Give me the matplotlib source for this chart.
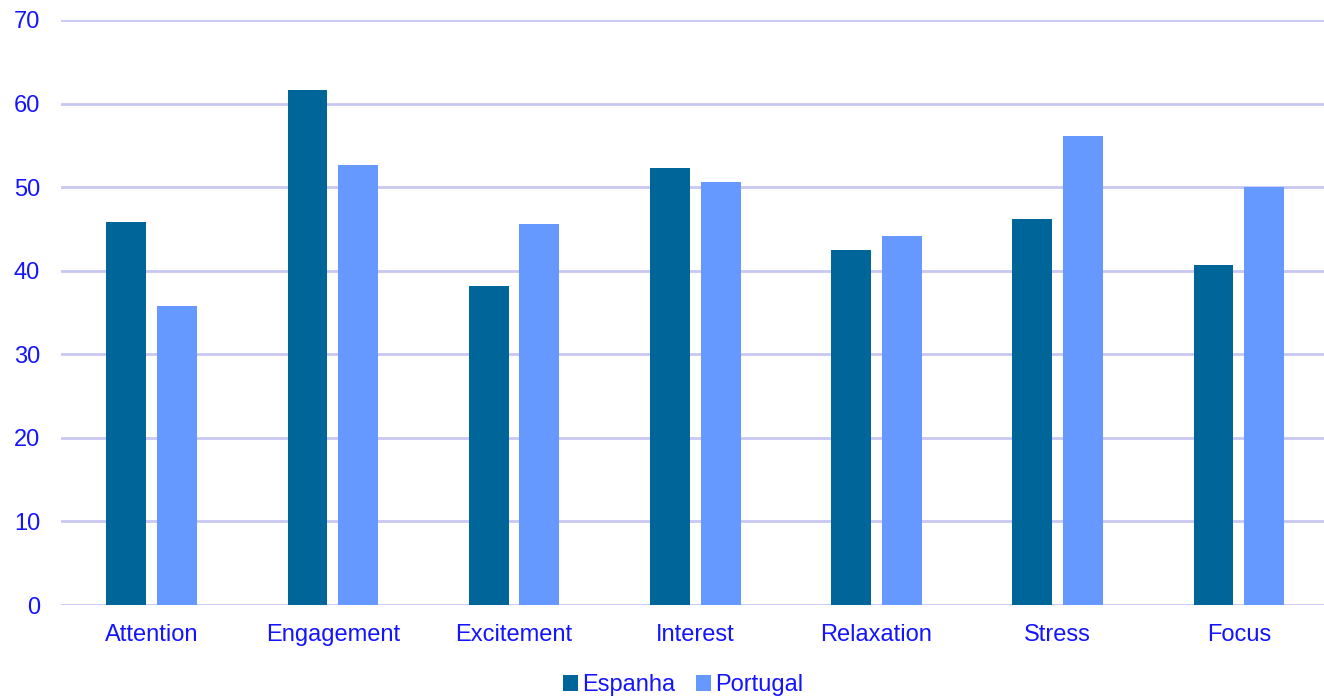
import matplotlib
matplotlib.use("Agg")
import matplotlib.pyplot as plt
import numpy as np

categories = ["Attention", "Engagement", "Excitement", "Interest", "Relaxation", "Stress", "Focus"]
espanha = [45.8, 61.6, 38.2, 52.3, 42.5, 46.2, 40.7]
portugal = [35.8, 52.6, 45.6, 50.6, 44.2, 56.1, 50.0]
series_names = ["Espanha", "Portugal"]
colors = ["#006699", "#6699FF"]
text_color = "#1414FF"
grid_color = "#C8C8F2"

plt.rcParams["font.family"] = ["Liberation Sans", "DejaVu Sans"]

W, H = 1324, 699
fig = plt.figure(figsize=(W / 100, H / 100), dpi=100)
ax = fig.add_axes([61 / W, (H - 605) / H, 1 - 61 / W, (605 - 20) / H])

x = np.arange(len(categories))
width = 0.22
off = 0.14
ax.bar(x - off, espanha, width, color=colors[0], label=series_names[0], zorder=3)
ax.bar(x + off, portugal, width, color=colors[1], label=series_names[1], zorder=3)

ax.set_ylim(0, 70)
ax.set_xlim(-0.5, 6.47)
ax.set_yticks(range(0, 71, 10))
ax.set_xticks(x)
ax.set_xticklabels(categories)
ax.yaxis.grid(True, color=grid_color, linewidth=2, zorder=0)
for s in ax.spines.values():
    s.set_visible(False)
ax.tick_params(axis="both", length=0, labelsize=17, labelcolor=text_color)
ax.tick_params(axis="y", pad=15)
ax.tick_params(axis="x", pad=14)

fig.legend(loc="center", bbox_to_anchor=(683 / W, 1 - 685 / H), ncol=2, frameon=False,
           fontsize=17, labelcolor=text_color, handlelength=0.65, handleheight=0.65,
           handletextpad=0.15, columnspacing=0.9)

fig.savefig("out.png", dpi=100)
